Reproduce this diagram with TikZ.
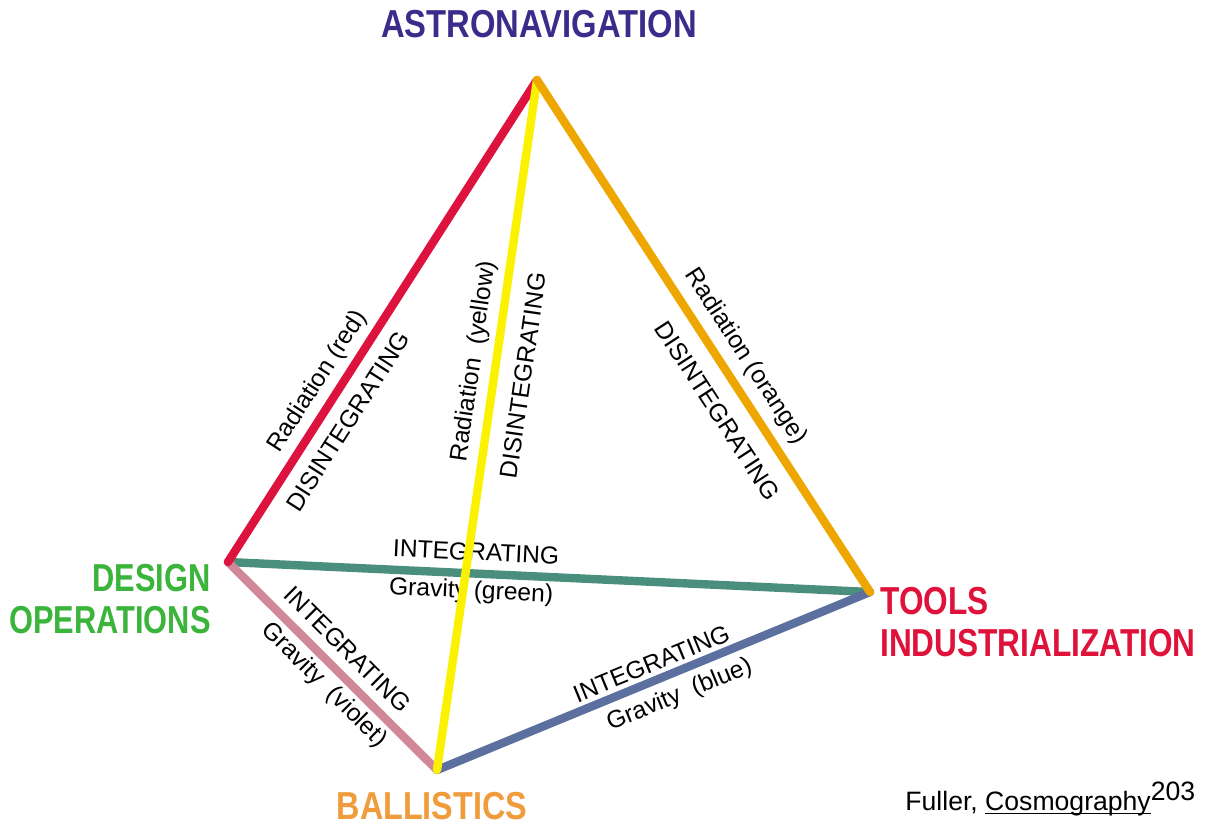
\documentclass[tikz,border=0pt]{standalone}
\usepackage{fontspec}
\setmainfont{Liberation Sans}
\definecolor{eRed}{RGB}{222,18,62}
\definecolor{eYellow}{RGB}{250,242,0}
\definecolor{eOrange}{RGB}{238,166,0}
\definecolor{eGreen}{RGB}{74,142,126}
\definecolor{ePink}{RGB}{208,136,152}
\definecolor{eBlue}{RGB}{92,112,160}
\definecolor{tAstro}{RGB}{58,44,138}
\definecolor{tDesign}{RGB}{58,180,58}
\definecolor{tTools}{RGB}{222,18,58}
\definecolor{tBall}{RGB}{240,156,60}
\newcommand\narrowtxt[2][0.83]{\scalebox{#1}[1]{#2}}
\begin{document}
\begin{tikzpicture}[x=0.5pt,y=-0.5pt,
  edge/.style={line width=4.2pt,line cap=round},
  lab/.style={font=\fontsize{12.3}{14}\selectfont,text=black,inner sep=0pt,sloped},
  title/.style={font=\bfseries\fontsize{19.5}{21}\selectfont,inner sep=0pt}]
\useasboundingbox (0,0) rectangle (1205,827);
\coordinate (A) at (537,80);
\coordinate (D) at (228,562);
\coordinate (T) at (870,592);
\coordinate (B) at (437,770);
% edges
\draw[edge,eGreen] (D) -- node[lab,pos=0.385,above=4.4pt] (g1) {INTEGRATING}
                          node[lab,pos=0.38,below=1.4pt] (g2) {Gravity (green)} (T);
\draw[edge,ePink] (D) -- node[lab,pos=0.497,above=4.7pt] (p1) {INTEGRATING}
                         node[lab,pos=0.525,below=2pt] (p2) {Gravity\ \ (violet)} (B);
\draw[edge,eBlue] (B) -- node[lab,pos=0.51,above=2pt] (b1) {INTEGRATING}
                         node[lab,pos=0.54,below=3.7pt] (b2) {Gravity\ \ (blue)} (T);
\draw[edge,eRed] (D) -- node[lab,pos=0.35,above=3pt] (r1) {Radiation (red)}
                        node[lab,pos=0.32,below=6pt] (r2) {DISINTEGRATING} (A);
\draw[edge,eYellow] (B) -- node[lab,pos=0.588,above=3pt] (y1) {Radiation\ \ (yellow)}
                           node[lab,pos=0.578,below=8pt] (y2) {DISINTEGRATING} (A);
\draw[edge,eOrange] (A) -- node[lab,pos=0.566,above=4pt] (o1) {Radiation (orange)}
                           node[lab,pos=0.615,below=8pt] (o2) {DISINTEGRATING} (T);
% vertex titles
\node[title,text=tAstro] (tA) at (539,24) {\narrowtxt[0.84]{ASTRONAVIGATION}};
\node[title,text=tDesign,align=right,anchor=east] (tD) at (211,599) {\narrowtxt[0.79]{DESIGN}\\\narrowtxt[0.79]{OPERATIONS}};
\node[title,text=tTools,align=left,anchor=west] (tT) at (880,622) {\narrowtxt[0.81]{TOOLS}\\\narrowtxt[0.81]{INDUSTRIALIZATION}};
\node[title,text=tBall] (tB) at (432,806) {\narrowtxt[0.83]{BALLISTICS}};
% citation
\node[inner sep=0pt,anchor=base west,font=\fontsize{13.3}{15}\selectfont] (cite) at (905,810)
  {Fuller, {\setbox0\hbox{Cosmography}\rlap{\rule[-2pt]{\wd0}{0.6pt}}\box0}\raisebox{5pt}{203}};
\end{tikzpicture}
\end{document}
